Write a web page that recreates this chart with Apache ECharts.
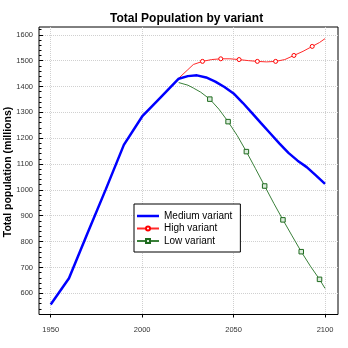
<!DOCTYPE html>
<html><head><meta charset="utf-8">
<script src="https://cdn.jsdelivr.net/npm/echarts@6/dist/echarts.min.js"></script>
<style>html,body{margin:0;padding:0;background:#fff}#c{width:348px;height:348px}</style>
</head><body><div id="c"></div>
<script>
// ---- data ----
const mediumYears  = [1950,1960,1970,1980,1990,2000,2010,2020,2025,2030,2035,2040,2045,2050,2055,2060,2065,2070,2075,2080,2085,2090,2095,2100];
const mediumValues = [557,658,830,1000,1174,1284,1357,1430,1440,1443,1435,1419,1398,1373,1337,1298,1258,1219,1180,1143,1113,1088,1056,1023];

const highYears  = [2020,2025,2028,2033,2038,2043,2048,2053,2058,2063,2068,2073,2078,2083,2088,2093,2097,2100];
const highValues = [1432,1465,1485,1497,1504,1507,1507,1504,1500,1497,1495,1497,1504,1520,1536,1555,1570,1585];
const highMarkerYears = [2033,2043,2053,2063,2073,2083,2093];

const lowYears  = [2020,2025,2028,2032,2037,2042,2047,2052,2057,2062,2067,2072,2077,2082,2087,2092,2097,2100];
const lowValues = [1415,1405,1394,1378,1351,1312,1264,1210,1148,1082,1015,948,884,822,761,705,654,619];
const lowMarkerYears = [2037,2047,2057,2067,2077,2087,2097];

const xTickValues = [1950,2000,2050,2100];
const yTickValues = [600,700,800,900,1000,1100,1200,1300,1400,1500,1600];
const yMinorTickValues = [520,540,560,580,620,640,660,680,720,740,760,780,820,840,860,880,920,940,960,980,1020,1040,1060,1080,1120,1140,1160,1180,1220,1240,1260,1280,1320,1340,1360,1380,1420,1440,1460,1480,1520,1540,1560,1580,1620];

const seriesNames = ['Medium variant','High variant','Low variant'];
const titleText = 'Total Population by variant';
const yAxisTitle = 'Total population (millions)';

// ---- build ----
function pairs(xs, ys, markers) {
  return xs.map((x, i) => markers
    ? (markers.indexOf(x) >= 0 ? { value: [x, ys[i]] } : { value: [x, ys[i]], symbol: 'none' })
    : [x, ys[i]]);
}
const plain = v => String(v);
const FONT = 'Liberation Sans';
const chart = echarts.init(document.getElementById('c'), null, { renderer: 'canvas' });
chart.setOption({
  animation: false,
  backgroundColor: '#fff',
  title: {
    text: titleText, left: 110, top: 13, padding: 0,
    textStyle: { fontSize: 12, fontWeight: 'bold', color: '#000', fontFamily: FONT }
  },
  graphic: [{
    type: 'text', x: 8, y: 172, rotation: Math.PI / 2, silent: true,
    style: { text: yAxisTitle, textAlign: 'center', textVerticalAlign: 'middle',
             font: 'bold 10.5px "Liberation Sans"', fill: '#000' }
  }],
  grid: { left: 39, top: 27, right: 10, bottom: 33.5, outerBoundsMode: 'none', containLabel: false,
          show: true, borderColor: '#000', borderWidth: 1, backgroundColor: 'transparent' },
  legend: {
    orient: 'vertical', left: 134, top: 204,
    backgroundColor: '#fff', borderColor: '#000', borderWidth: 1, borderRadius: 0,
    padding: [7, 8, 6, 2], itemWidth: 22, itemHeight: 5, itemGap: 2.5,
    textStyle: { fontSize: 10, color: '#000', fontFamily: FONT },
    data: [
      { name: seriesNames[0], icon: 'path://M0,0H22V2.5H0Z' },
      { name: seriesNames[1] },
      { name: seriesNames[2] }
    ]
  },
  xAxis: {
    type: 'value', min: 1943.6, max: 2107.1,
    axisLine: { show: false },
    axisTick: { show: true, inside: false, length: 3, customValues: xTickValues, lineStyle: { color: '#000' } },
    axisLabel: { customValues: xTickValues, formatter: plain, fontSize: 7.5, color: '#333', fontFamily: FONT, margin: 11 },
    splitLine: { show: true, lineStyle: { color: '#d0d0d0', type: 'dotted', width: 1 } }
  },
  yAxis: [{
    type: 'value', min: 518, max: 1630, position: 'left',
    axisLine: { show: false },
    axisTick: { show: true, inside: true, length: 4, customValues: yTickValues, lineStyle: { color: '#000' } },
    axisLabel: { customValues: yTickValues, formatter: plain, fontSize: 7.5, color: '#333', fontFamily: FONT, margin: 6 },
    splitLine: { show: true, lineStyle: { color: '#d0d0d0', type: 'dotted', width: 1 } }
  }, {
    type: 'value', min: 518, max: 1630, position: 'left', offset: 0,
    axisLine: { show: false },
    axisTick: { show: true, inside: true, length: 2.5, customValues: yMinorTickValues, lineStyle: { color: '#000' } },
    axisLabel: { show: false },
    splitLine: { show: false }
  }],
  series: [{
    name: seriesNames[0], type: 'line', yAxisIndex: 0, symbol: 'none', z: 5,
    lineStyle: { color: '#0000ff', width: 2.5 }, itemStyle: { color: '#0000ff' },
    data: pairs(mediumYears, mediumValues)
  }, {
    name: seriesNames[1], type: 'line', yAxisIndex: 0, symbol: 'circle', symbolSize: 4, showSymbol: true, z: 3,
    lineStyle: { color: '#ff2a2a', width: 1 }, itemStyle: { color: '#fff', borderColor: '#ff0000', borderWidth: 1 },
    data: pairs(highYears, highValues, highMarkerYears)
  }, {
    name: seriesNames[2], type: 'line', yAxisIndex: 0, symbol: 'rect', symbolSize: 4.5, showSymbol: true, z: 3,
    lineStyle: { color: '#3a803a', width: 1 }, itemStyle: { color: '#dcecdc', borderColor: '#1e6a1e', borderWidth: 1 },
    data: pairs(lowYears, lowValues, lowMarkerYears)
  }]
});
</script></body></html>
